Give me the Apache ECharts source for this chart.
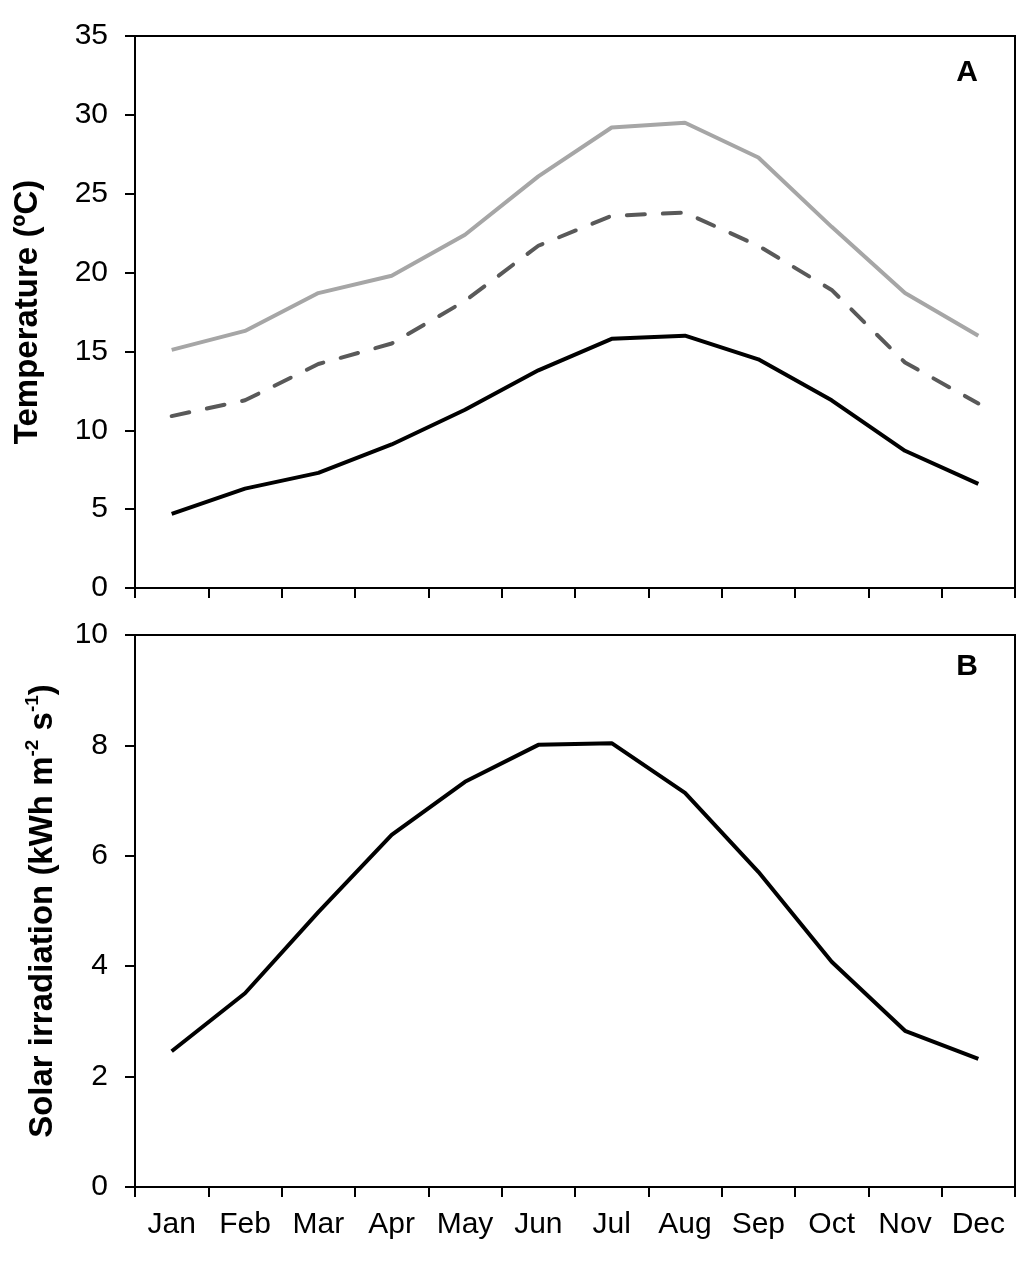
<!DOCTYPE html>
<html><head><meta charset="utf-8">
<script src="https://cdn.jsdelivr.net/npm/echarts@6/dist/echarts.min.js"></script>
<style>html,body{margin:0;padding:0;background:#fff}#c{width:1024px;height:1265px}</style>
</head><body><div id="c"></div>
<script>
const months = ['Jan','Feb','Mar','Apr','May','Jun','Jul','Aug','Sep','Oct','Nov','Dec'];
const tempMax = [15.1,16.3,18.7,19.8,22.4,26.1,29.2,29.5,27.3,22.9,18.7,16.0];
const tempMean = [10.9,11.9,14.2,15.5,18.2,21.7,23.6,23.8,21.7,18.9,14.3,11.7];
const tempMin = [4.7,6.3,7.3,9.1,11.3,13.8,15.8,16.0,14.5,11.9,8.7,6.6];
const solar = [2.46,3.51,4.98,6.38,7.34,8.01,8.04,7.14,5.71,4.08,2.83,2.32];

const FONT = '"Liberation Sans", Arial, sans-serif';
const chart = echarts.init(document.getElementById('c'), null, {renderer:'canvas'});
const axisLine = {show:true, lineStyle:{color:'#000', width:2}};
const tick = {show:true, length:10, inside:false, lineStyle:{color:'#000', width:2}};
function xAxis(idx, showLabel){
  return {type:'category', gridIndex:idx, data:months, boundaryGap:true,
    axisLine:axisLine, axisTick:Object.assign({alignWithLabel:false},tick),
    axisLabel:{show:showLabel, color:'#000', fontSize:30, fontFamily:FONT, margin:23, interval:0},
    splitLine:{show:false}};
}
chart.setOption({
  animation:false,
  grid:[
    {left:135, top:36, width:880, height:552, show:true, borderColor:'#000', borderWidth:2, backgroundColor:'transparent'},
    {left:135, top:635, width:880, height:552, show:true, borderColor:'#000', borderWidth:2, backgroundColor:'transparent'}
  ],
  title:[
    {text:'A', right:41, top:53, textStyle:{fontSize:30, fontWeight:'bold', fontFamily:FONT, color:'#000'}},
    {text:'B', right:41, top:647, textStyle:{fontSize:30, fontWeight:'bold', fontFamily:FONT, color:'#000'}}
  ],
  xAxis:[xAxis(0,false), xAxis(1,true)],
  yAxis:[
    {type:'value', gridIndex:0, min:0, max:35, interval:5,
     axisLine:axisLine, axisTick:tick,
     axisLabel:{color:'#000', fontSize:30, fontFamily:FONT, margin:27},
     splitLine:{show:false},
     name:'Temperature (ºC)', nameLocation:'middle', nameGap:91, nameRotate:90,
     nameTextStyle:{color:'#000', fontSize:33, fontWeight:'bold', fontFamily:FONT}},
    {type:'value', gridIndex:1, min:0, max:10, interval:2,
     axisLine:axisLine, axisTick:tick,
     axisLabel:{color:'#000', fontSize:30, fontFamily:FONT, margin:27},
     splitLine:{show:false},
     name:'{n|Solar irradiation (kWh m}{s|-2}{n| s}{s|-1}{n|)}', nameLocation:'middle', nameGap:76, nameRotate:90,
     nameTextStyle:{color:'#000', fontFamily:FONT,
       rich:{n:{fontSize:33, fontWeight:'bold', fontFamily:FONT, color:'#000', verticalAlign:'bottom', lineHeight:36},
             s:{fontSize:19, fontWeight:'bold', fontFamily:FONT, color:'#000', verticalAlign:'top', lineHeight:36}}}}
  ],
  series:[
    {type:'line', xAxisIndex:0, yAxisIndex:0, data:tempMax, symbol:'none', lineStyle:{color:'#a6a6a6', width:4}},
    {type:'line', xAxisIndex:0, yAxisIndex:0, data:tempMean, symbol:'none', lineStyle:{color:'#595959', width:4, type:[18,18], cap:'round'}},
    {type:'line', xAxisIndex:0, yAxisIndex:0, data:tempMin, symbol:'none', lineStyle:{color:'#000', width:4}},
    {type:'line', xAxisIndex:1, yAxisIndex:1, data:solar, symbol:'none', lineStyle:{color:'#000', width:4}}
  ]
});
</script></body></html>
